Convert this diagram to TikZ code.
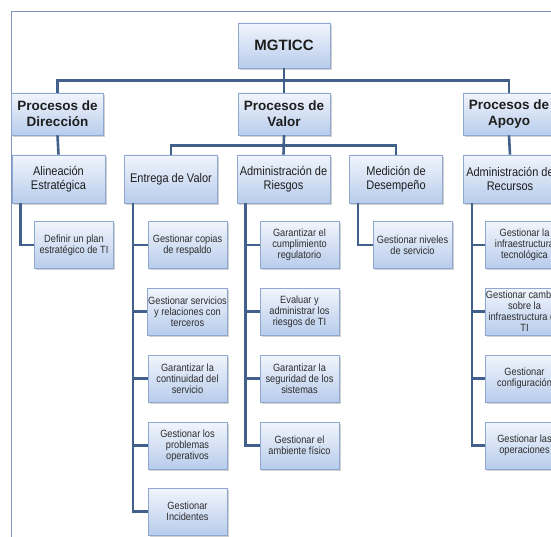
\documentclass[tikz,border=0pt]{standalone}
\usepackage{fontspec}
\setmainfont{Liberation Sans}
\newfontfamily\narrowfont{Liberation Sans}[FakeStretch=0.88]
\usetikzlibrary{shadows}
\definecolor{linkblue}{HTML}{41608C}
\definecolor{framecol}{HTML}{8096C0}
\definecolor{boxedge}{HTML}{8FA8CF}
\definecolor{boxtop}{HTML}{F1F5FC}
\definecolor{boxbottom}{HTML}{B8CCEC}
\definecolor{inktext}{HTML}{1E1E1E}
\definecolor{softtext}{HTML}{2E2E2E}
\tikzset{
  box/.style={draw=boxedge, line width=0.8pt, top color=boxtop, bottom color=boxbottom,
    align=center, inner sep=1pt,
    drop shadow={shadow xshift=1.6pt, shadow yshift=-1.6pt, fill=black!40, opacity=.45}},
  rootbox/.style={box, minimum width=92pt, minimum height=45pt, text=inktext,
    font=\fontsize{15}{17}\selectfont\bfseries},
  groupbox/.style={box, minimum width=92pt, minimum height=42pt, text=inktext,
    font=\fontsize{13.5}{16}\selectfont\bfseries},
  areabox/.style={box, minimum width=93pt, minimum height=48pt, text=inktext,
    font=\narrowfont\fontsize{12.5}{13.5}\selectfont},
  taskbox/.style={box, minimum width=79pt, minimum height=47pt, text=softtext,
    font=\narrowfont\fontsize{10.5}{11}\selectfont},
  link/.style={draw=linkblue, line width=2.6pt},
}
\begin{document}
\begin{tikzpicture}[x=1pt, y=-1pt]
\useasboundingbox (0,0) rectangle (551,537);
\begin{scope}
\clip (0,0) rectangle (551,537);
% outer frame
\draw[framecol, line width=1pt] (11,12) rectangle (620,620);

% top levels
\node[rootbox]  (root)  at (284,45.5) {MGTICC};
\node[groupbox] (dir)   at (57.5,114) {Procesos de\\Dirección};
\node[groupbox] (valor) at (284,114)  {Procesos de\\Valor};
\node[groupbox] (apoyo) at (509,114)  {Procesos de\\Apoyo};

% process areas
\node[areabox] (alin) at (58.5,179) {Alineación\\Estratégica};
\node[areabox] (entr) at (171,179)  {Entrega de Valor};
\node[areabox] (ries) at (283.5,179){Administración de\\Riesgos};
\node[areabox] (medi) at (396,179)  {Medición de\\Desempeño};
\node[areabox] (recu) at (510,179)  {Administración de\\Recursos};

% tasks
\node[taskbox] (d1) at (74,245) {Definir un plan\\estratégico de TI};

\node[taskbox] (e1) at (187.5,245)   {Gestionar copias\\de respaldo};
\node[taskbox] (e2) at (187.5,311.5) {Gestionar servicios\\y relaciones con\\terceros};
\node[taskbox] (e3) at (187.5,378.5) {Garantizar la\\continuidad del\\servicio};
\node[taskbox] (e4) at (187.5,445.5) {Gestionar los\\problemas\\operativos};
\node[taskbox] (e5) at (187.5,511.5) {Gestionar\\Incidentes};

\node[taskbox] (r1) at (299.5,245)   {Garantizar el\\cumplimiento\\regulatorio};
\node[taskbox] (r2) at (299.5,311.5) {Evaluar y\\administrar los\\riesgos de TI};
\node[taskbox] (r3) at (299.5,378.5) {Garantizar la\\seguridad de los\\sistemas};
\node[taskbox] (r4) at (299.5,445.5) {Gestionar el\\ambiente físico};

\node[taskbox] (m1) at (412.5,245) {Gestionar niveles\\de servicio};

\node[taskbox] (c1) at (524.5,245)   {Gestionar la\\infraestructura\\tecnológica};
\node[taskbox] (c2) at (524.5,311.5) {Gestionar cambios\\sobre la\\infraestructura de\\TI};
\node[taskbox] (c3) at (524.5,378.5) {Gestionar\\configuración};
\node[taskbox] (c4) at (524.5,445.5) {Gestionar las\\operaciones};

% connectors
\begin{scope}[on background layer/.style={}]
\path[link] (root.south) -- ++(0,12) -| (dir.north);
\path[link] (root.south) -- ++(0,12) -| (apoyo.north);
\path[link] (root.south) -- (valor.north);

\path[link] (dir.south) -- (alin.north);
\path[link] (apoyo.south) -- (recu.north);
\path[link] (valor.south) -- ++(0,10) -| (entr.north);
\path[link] (valor.south) -- ++(0,10) -| (medi.north);
\path[link] (valor.south) -- (ries.north);

\foreach \p/\c in {alin/d1, entr/e1, entr/e2, entr/e3, entr/e4, entr/e5,
                   ries/r1, ries/r2, ries/r3, ries/r4, medi/m1,
                   recu/c1, recu/c2, recu/c3, recu/c4}
  \path[link] (\p.south west) ++(9,0) |- (\c.west);
\end{scope}
\end{scope}
\end{tikzpicture}
\end{document}
